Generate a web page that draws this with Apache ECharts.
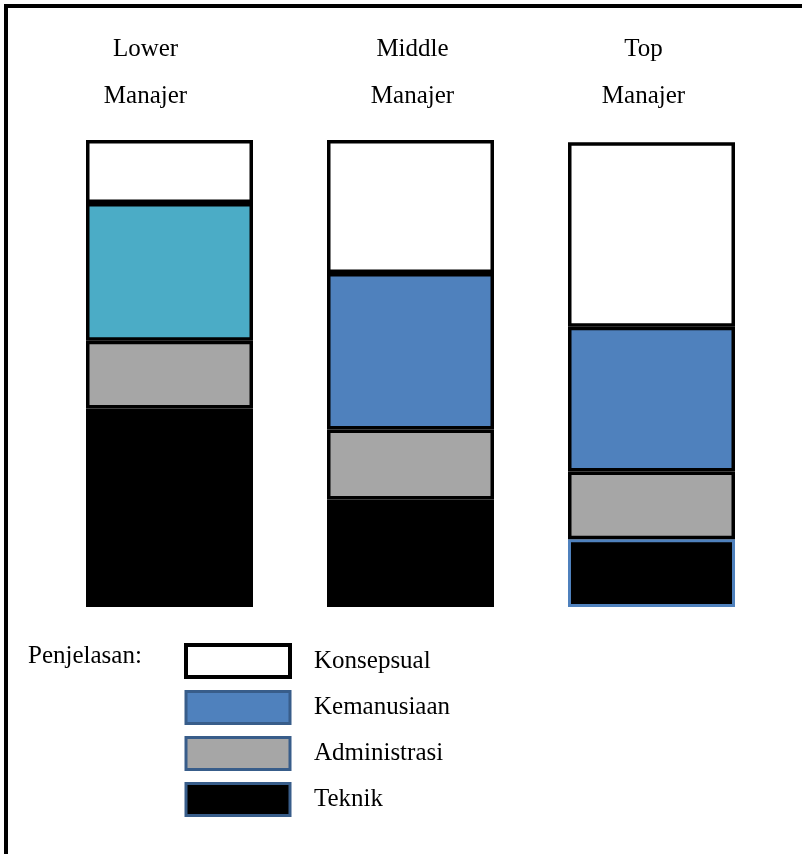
<!DOCTYPE html>
<html lang="id">
<head>
    <meta charset="UTF-8">
    <title>Keterampilan Manajer</title>
    <script src="https://cdn.jsdelivr.net/npm/echarts@6/dist/echarts.min.js"></script>
    <style>
        html, body { margin: 0; padding: 0; background: #fff; }
        #charts { width: 802px; height: 854px; }
    </style>
</head>
<body>
<div id="charts"></div>

<script>
    // data (persen tinggi tiap bagian batang)
    var categories = ['Lower', 'Middle', 'Top'];
    var teknik = [42.5, 23, 14.5];
    var administrasi = [14.5, 15, 14.5];
    var kemanusiaan = [29.5, 33.5, 31];
    var konsepsual = [13.5, 28.5, 39.5];
    var legendNames = ['Konsepsual', 'Kemanusiaan', 'Administrasi', 'Teknik'];

    var font = '"Liberation Serif", "DejaVu Serif", serif';
    // geser label sedikit seperti gambar asli
    var labelShift = { 'Lower': -24, 'Middle': 2, 'Top': -8 };

    var myChart = echarts.init(document.getElementById('charts'));

    var kemanusiaanData = kemanusiaan.map(function (v, i) {
        if (i === 0) return { value: v, itemStyle: { color: '#4BACC6' } };
        return v;
    });
    var teknikData = teknik.map(function (v, i) {
        if (i === 2) return { value: v, itemStyle: { borderColor: '#4F81BD', borderWidth: 3 } };
        return v;
    });

    function barSeries(name, data, color) {
        return {
            name: name,
            type: 'bar',
            stack: 'skill',
            barWidth: 167,
            data: data,
            itemStyle: { color: color, borderColor: '#000', borderWidth: 3.5 },
            emphasis: { disabled: true }
        };
    }

    // rich style per kategori untuk pergeseran label
    var rich = {};
    categories.forEach(function (c) {
        var s = labelShift[c];
        rich[c] = {
            fontFamily: font, fontSize: 25, color: '#000', lineHeight: 47,
            padding: s < 0 ? [0, -2 * s, 0, 0] : [0, 0, 0, 2 * s]
        };
    });

    var option = {
        animation: false,
        grid: { left: 49, right: 30, top: 140, bottom: 247 },
        xAxis: {
            type: 'category',
            position: 'top',
            data: categories,
            axisLine: { show: false },
            axisTick: { show: false },
            axisLabel: {
                margin: 20,
                fontFamily: font,
                fontSize: 25,
                color: '#000',
                lineHeight: 47,
                formatter: function (v) {
                    return '{' + v + '|' + v + '}\n{' + v + '|Manajer}';
                },
                rich: rich
            }
        },
        yAxis: { type: 'value', min: 0, max: 100, show: false },
        legend: {
            orient: 'vertical',
            left: 184,
            top: 643,
            padding: 0,
            itemWidth: 104,
            itemHeight: 32,
            itemGap: 11,
            selectedMode: false,
            icon: 'rect',
            textStyle: { fontFamily: font, fontSize: 25, color: '#000', padding: [0, 0, 9, 19] },
            data: [
                { name: 'Konsepsual', itemStyle: { color: '#fff', borderColor: '#000', borderWidth: 4 } },
                { name: 'Kemanusiaan', itemStyle: { color: '#4F81BD', borderColor: '#385D8A', borderWidth: 3 } },
                { name: 'Administrasi', itemStyle: { color: '#A6A6A6', borderColor: '#385D8A', borderWidth: 3 } },
                { name: 'Teknik', itemStyle: { color: '#000', borderColor: '#385D8A', borderWidth: 3 } }
            ]
        },
        graphic: [
            { type: 'rect', shape: { x: 4, y: 4, width: 4, height: 850 }, style: { fill: '#000' } },
            { type: 'rect', shape: { x: 4, y: 4, width: 798, height: 4 }, style: { fill: '#000' } },
            {
                type: 'text', left: 28, top: 644,
                style: { text: 'Penjelasan:', font: '25px ' + font, fill: '#000' }
            }
        ],
        series: [
            barSeries(legendNames[3], teknikData, '#000'),
            barSeries(legendNames[2], administrasi, '#A6A6A6'),
            barSeries(legendNames[1], kemanusiaanData, '#4F81BD'),
            barSeries(legendNames[0], konsepsual, '#fff')
        ]
    };

    myChart.setOption(option);
</script>
</body>
</html>
